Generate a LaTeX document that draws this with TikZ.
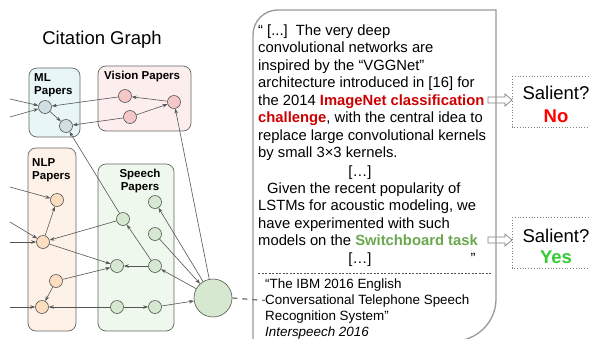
\documentclass[tikz,border=0pt]{standalone}
\usepackage{fontspec}
\setmainfont{Liberation Sans}
\usetikzlibrary{arrows.meta}
\definecolor{mlfill}{HTML}{E8F6F8}
\definecolor{visfill}{HTML}{FDEEEE}
\definecolor{nlpfill}{HTML}{FDF1E8}
\definecolor{spfill}{HTML}{EFF8EC}
\definecolor{mlnode}{HTML}{D2DFE2}
\definecolor{visnode}{HTML}{F5C8C8}
\definecolor{nlpnode}{HTML}{FCDDC0}
\definecolor{spnode}{HTML}{D6E9D0}
\definecolor{edgec}{HTML}{555555}
\definecolor{boxc}{HTML}{666666}
\definecolor{linkc}{HTML}{777777}
\definecolor{quotec}{HTML}{999999}
\definecolor{darkred}{HTML}{CC0000}
\definecolor{brightred}{HTML}{FF0000}
\definecolor{swgreen}{HTML}{6AA84F}
\definecolor{yesgreen}{HTML}{33CC33}
\begin{document}
\begin{tikzpicture}[x=1pt,y=-1pt,
  grp/.style={draw=boxc, line width=0.7pt, rounded corners=8pt},
  paper/.style={circle, draw=edgec, line width=0.6pt, minimum size=13pt, inner sep=0pt},
  cite/.style={draw=edgec, line width=0.6pt, -{Stealth[length=5pt,width=3.5pt]}},
  lbl/.style={inner sep=0pt, anchor=base west, font=\fontsize{11.5}{13}\selectfont\bfseries},
  qtext/.style={inner sep=0pt, anchor=base west, font=\fontsize{14.8}{17.6}\selectfont},
  ctext/.style={inner sep=0pt, anchor=base west, font=\fontsize{13.4}{16}\selectfont},
  sal/.style={inner sep=0pt, font=\fontsize{18.5}{20}\selectfont},
  blockarrow/.style={draw=gray, fill=white, line width=0.7pt, line join=miter}]
\useasboundingbox (0,0) rectangle (589,338);
\clip (0,0) rectangle (589,338);
\fill[white] (0,0) rectangle (589,338);

% title
\node[inner sep=0pt, font=\fontsize{18.5}{20}\selectfont] (title) at (102,40) {Citation Graph};

% group boxes
\draw[grp, fill=mlfill] (29,68) rectangle (80,137);
\draw[grp, fill=visfill] (98,66) rectangle (191,131);
\draw[grp, fill=nlpfill] (28,148) rectangle (76,331);
\draw[grp, fill=spfill] (98,164) rectangle (174,331);

\node[lbl] (mlA) at (34,81) {ML};
\node[lbl] (mlB) at (34,94) {Papers};
\node[lbl] (visA) at (104,79) {Vision Papers};
\node[lbl] (nlpA) at (32,166) {NLP};
\node[lbl] (nlpB) at (32,179) {Papers};
\node[inner sep=0pt, anchor=base, font=\fontsize{11.5}{13}\selectfont\bfseries] (spA) at (140,177) {Speech};
\node[inner sep=0pt, anchor=base, font=\fontsize{11.5}{13}\selectfont\bfseries] (spB) at (140,190) {Papers};

% paper nodes
\node[paper, fill=mlnode] (m1) at (45,107) {};
\node[paper, fill=mlnode] (m2) at (66,126) {};
\node[paper, fill=visnode] (v1) at (125,96) {};
\node[paper, fill=visnode] (v2) at (130,117) {};
\node[paper, fill=visnode] (v3) at (174,102) {};
\node[paper, fill=nlpnode] (n1) at (57,200) {};
\node[paper, fill=nlpnode] (n2) at (43,242) {};
\node[paper, fill=nlpnode] (n3) at (56,281) {};
\node[paper, fill=nlpnode] (n4) at (42,307) {};
\node[paper, fill=spnode] (s1) at (155,202) {};
\node[paper, fill=spnode] (s2) at (123,219) {};
\node[paper, fill=spnode] (s3) at (155,234) {};
\node[paper, fill=spnode] (s4) at (117,266) {};
\node[paper, fill=spnode] (s5) at (155,266) {};
\node[paper, fill=spnode] (s6) at (117,307) {};
\node[paper, fill=spnode] (s7) at (155,307) {};
\node[paper, fill=spnode, minimum size=38pt] (big) at (213,298) {};

% incoming from outside
\coordinate (l1) at (10,99);
\coordinate (l2) at (10,117);
\coordinate (l3) at (10,187);
\coordinate (l4) at (10,222);
\coordinate (l5) at (10,242);
\coordinate (l6) at (10,307);

% edges
\draw[cite] (l1) -- (m1);
\draw[cite] (l2) -- (m1);
\draw[cite] (v1) -- (m1);
\draw[cite] (m1) -- (m2);
\draw[cite] (v2) -- (m2);
\draw[cite] (v3) -- (v1);
\draw[cite] (v2) -- (v3);
\draw[cite] (big) -- (v3);
\draw[cite] (s2) -- (m2);
\draw[cite] (l3) -- (n1);
\draw[cite] (l4) -- (n2);
\draw[cite] (l5) -- (n2);
\draw[cite] (n2) -- (n1);
\draw[cite] (s2) -- (n2);
\draw[cite] (n2) -- (s4);
\draw[cite] (n3) -- (s4);
\draw[cite] (n3) -- (n4);
\draw[cite] (l6) -- (n4);
\draw[cite] (s6) -- (n4);
\draw[cite] (s6) -- (s7);
\draw[cite] (s7) -- (big);
\draw[cite] (s5) -- (s4);
\draw[cite] (s5) -- (s2);
\draw[cite] (big) -- (s1);
\draw[cite] (s3) -- (big);
\draw[cite] (big) -- (s5);

% block arrows
\draw[blockarrow] (488,97) -- (505,97) -- (505,94) -- (512,100) -- (505,106) -- (505,103) -- (488,103) -- cycle;
\draw[blockarrow] (488,237) -- (505,237) -- (505,234) -- (512,240) -- (505,246) -- (505,243) -- (488,243) -- cycle;

% quote box
\draw[draw=quotec, line width=1.3pt] (253,345) -- (253,35) .. controls (253,21) and (264,10) .. (278,10) -- (496,10) -- (496,299) .. controls (496,322) and (477,341) .. (454,341) -- (253,341);

\node[qtext] (q1) at (258,35) {“ [...]\, The very deep};
\node[qtext] (q2) at (258,52.5) {convolutional networks are};
\node[qtext] (q3) at (258,70) {inspired by the “VGGNet”};
\node[qtext] (q4) at (258,87.5) {architecture introduced in [16] for};
\node[qtext] (q5) at (258,105) {the 2014 \textcolor{darkred}{\bfseries ImageNet classification}};
\node[qtext] (q6) at (258,122.5) {\textcolor{darkred}{\bfseries challenge}, with the central idea to};
\node[qtext] (q7) at (258,140) {replace large convolutional kernels};
\node[qtext] (q8) at (258,157.5) {by small 3×3 kernels.};
\node[qtext, anchor=base] (q9) at (360,176) {[…]};
\node[qtext] (q10) at (267,193) {Given the recent popularity of};
\node[qtext] (q11) at (258,210.5) {LSTMs for acoustic modeling, we};
\node[qtext] (q12) at (258,228) {have experimented with such};
\node[qtext] (q13) at (258,245.5) {models on the \textcolor{swgreen}{\bfseries Switchboard task}};
\node[qtext, anchor=base] (q14) at (360,263) {[…]};
\node[qtext, anchor=base] (q15) at (473,263) {”};

\coordinate (sepL) at (258,273);
\coordinate (sepR) at (492,273);
\draw[edgec, line width=0.6pt, dash pattern=on 2pt off 1.5pt] (sepL) -- (sepR);

\node[ctext] (c1) at (265,288) {“The IBM 2016 English};
\node[ctext] (c2) at (265,304) {Conversational Telephone Speech};
\node[ctext] (c3) at (265,320) {Recognition System”};
\node[ctext] (c4) at (265,336) {\itshape Interspeech 2016};

% dashed link from big node to the box
\draw[linkc, line width=1.3pt, dash pattern=on 5pt off 5pt] (big.east) -- (c2.west);

% salient boxes
\draw[gray, line width=0.8pt, dotted] (512,76) rectangle (600,127);
\draw[gray, line width=0.8pt, dotted] (512,217) rectangle (600,268);
\node[sal] (sal1) at (556,93) {Salient?};
\node[sal, text=brightred, font=\fontsize{18.5}{20}\selectfont\bfseries] (no) at (556,116) {No};
\node[sal] (sal2) at (556,236) {Salient?};
\node[sal, text=yesgreen, font=\fontsize{18.5}{20}\selectfont\bfseries] (yes) at (556,257) {Yes};
\end{tikzpicture}
\end{document}
